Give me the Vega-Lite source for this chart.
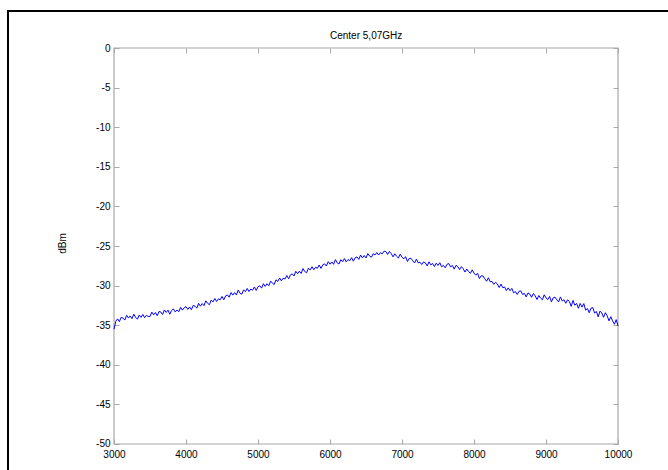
{
 "$schema": "https://vega.github.io/schema/vega-lite/v6.json",
 "width": 680,
 "height": 459,
 "autosize": {"type": "none"},
 "padding": {"left": 8, "top": 11, "right": -20, "bottom": 0},
 "background": "white",
 "config": {"view": {"stroke": "transparent", "strokeWidth": 0, "strokeOpacity": 0}, "font": "Liberation Sans"},
 "title": {"text": "Center 5,07GHz", "fontSize": 10, "fontWeight": "normal", "color": "black", "font": "Liberation Sans", "frame": "group", "anchor": "start", "offset": -31, "dx": 322},
 "datasets": {"spectrum": [
{"f":3000,"v":-35.5},{"f":3025,"v":-34.5},{"f":3050,"v":-34.2},{"f":3075,"v":-34.55},{"f":3100,"v":-34.0},{"f":3125,"v":-34.1},{"f":3150,"v":-34.35},{"f":3175,"v":-33.75},{"f":3200,"v":-34.1},{"f":3225,"v":-33.84},{"f":3250,"v":-34.17},{"f":3275,"v":-33.61},{"f":3300,"v":-34.0},{"f":3325,"v":-34.24},{"f":3350,"v":-33.72},{"f":3375,"v":-34.01},{"f":3400,"v":-33.65},{"f":3425,"v":-34.05},{"f":3450,"v":-33.75},{"f":3475,"v":-33.9},
{"f":3500,"v":-33.9},{"f":3525,"v":-33.35},{"f":3550,"v":-33.7},{"f":3575,"v":-33.4},{"f":3600,"v":-33.8},{"f":3625,"v":-33.27},{"f":3650,"v":-33.33},{"f":3675,"v":-33.65},{"f":3700,"v":-33.07},{"f":3725,"v":-33.38},{"f":3750,"v":-33.1},{"f":3775,"v":-33.62},{"f":3800,"v":-33.13},{"f":3825,"v":-32.95},{"f":3850,"v":-33.32},{"f":3875,"v":-33.08},{"f":3900,"v":-33.3},{"f":3925,"v":-32.75},{"f":3950,"v":-33.1},{"f":3975,"v":-32.8},
{"f":4000,"v":-32.65},{"f":4025,"v":-33.0},{"f":4050,"v":-32.7},{"f":4075,"v":-33.05},{"f":4100,"v":-32.5},{"f":4125,"v":-32.6},{"f":4150,"v":-32.85},{"f":4175,"v":-32.25},{"f":4200,"v":-32.6},{"f":4225,"v":-32.27},{"f":4250,"v":-32.54},{"f":4275,"v":-31.92},{"f":4300,"v":-32.24},{"f":4325,"v":-32.41},{"f":4350,"v":-31.83},{"f":4375,"v":-32.06},{"f":4400,"v":-31.63},{"f":4425,"v":-32.0},{"f":4450,"v":-31.67},{"f":4475,"v":-31.79},
{"f":4500,"v":-31.37},{"f":4525,"v":-31.79},{"f":4550,"v":-31.31},{"f":4575,"v":-31.18},{"f":4600,"v":-31.46},{"f":4625,"v":-30.88},{"f":4650,"v":-31.2},{"f":4675,"v":-30.89},{"f":4700,"v":-31.18},{"f":4725,"v":-30.57},{"f":4750,"v":-30.96},{"f":4775,"v":-31.09},{"f":4800,"v":-30.53},{"f":4825,"v":-30.77},{"f":4850,"v":-30.36},{"f":4875,"v":-30.75},{"f":4900,"v":-30.44},{"f":4925,"v":-30.58},{"f":4950,"v":-30.17},{"f":4975,"v":-30.61},
{"f":5000,"v":-30.14},{"f":5025,"v":-30.03},{"f":5050,"v":-30.32},{"f":5075,"v":-29.76},{"f":5100,"v":-30.1},{"f":5125,"v":-29.76},{"f":5150,"v":-30.02},{"f":5175,"v":-29.43},{"f":5200,"v":-29.69},{"f":5225,"v":-29.86},{"f":5250,"v":-29.27},{"f":5275,"v":-29.48},{"f":5300,"v":-29.04},{"f":5325,"v":-29.4},{"f":5350,"v":-29.06},{"f":5375,"v":-29.17},{"f":5400,"v":-28.73},{"f":5425,"v":-29.14},{"f":5450,"v":-28.66},{"f":5475,"v":-28.52},
{"f":5500,"v":-28.78},{"f":5525,"v":-28.19},{"f":5550,"v":-28.5},{"f":5575,"v":-28.18},{"f":5600,"v":-28.47},{"f":5625,"v":-27.85},{"f":5650,"v":-28.23},{"f":5675,"v":-28.37},{"f":5700,"v":-27.8},{"f":5725,"v":-28.03},{"f":5750,"v":-27.62},{"f":5775,"v":-28.0},{"f":5800,"v":-27.68},{"f":5825,"v":-27.82},{"f":5850,"v":-27.4},{"f":5875,"v":-27.83},{"f":5900,"v":-27.37},{"f":5925,"v":-27.25},{"f":5950,"v":-27.53},{"f":5975,"v":-26.97},
{"f":6000,"v":-27.3},{"f":6025,"v":-27.01},{"f":6050,"v":-27.31},{"f":6075,"v":-26.72},{"f":6100,"v":-27.12},{"f":6125,"v":-27.28},{"f":6150,"v":-26.73},{"f":6175,"v":-26.99},{"f":6200,"v":-26.59},{"f":6225,"v":-27.0},{"f":6250,"v":-26.71},{"f":6275,"v":-26.86},{"f":6300,"v":-26.47},{"f":6325,"v":-26.92},{"f":6350,"v":-26.48},{"f":6375,"v":-26.38},{"f":6400,"v":-26.69},{"f":6425,"v":-26.14},{"f":6450,"v":-26.5},{"f":6475,"v":-26.2},
{"f":6500,"v":-26.51},{"f":6525,"v":-25.96},{"f":6550,"v":-26.27},{"f":6575,"v":-26.42},{"f":6600,"v":-25.97},{"f":6625,"v":-26.13},{"f":6650,"v":-25.83},{"f":6675,"v":-26.13},{"f":6700,"v":-25.84},{"f":6725,"v":-25.99},{"f":6750,"v":-25.65},{"f":6775,"v":-25.7},{"f":6800,"v":-26.07},{"f":6825,"v":-25.68},{"f":6850,"v":-25.95},{"f":6875,"v":-26.37},{"f":6900,"v":-25.98},{"f":6925,"v":-26.3},{"f":6950,"v":-26.52},{"f":6975,"v":-26.03},
{"f":7000,"v":-26.4},{"f":7025,"v":-26.62},{"f":7050,"v":-26.34},{"f":7075,"v":-26.96},{"f":7100,"v":-26.58},{"f":7125,"v":-26.55},{"f":7150,"v":-26.87},{"f":7175,"v":-27.14},{"f":7200,"v":-26.66},{"f":7225,"v":-27.13},{"f":7250,"v":-27.05},{"f":7275,"v":-27.33},{"f":7300,"v":-27.01},{"f":7325,"v":-27.14},{"f":7350,"v":-27.52},{"f":7375,"v":-27.0},{"f":7400,"v":-27.38},{"f":7425,"v":-27.21},{"f":7450,"v":-27.59},{"f":7475,"v":-27.17},
{"f":7500,"v":-27.45},{"f":7525,"v":-27.11},{"f":7550,"v":-27.62},{"f":7575,"v":-27.44},{"f":7600,"v":-27.75},{"f":7625,"v":-27.31},{"f":7650,"v":-27.22},{"f":7675,"v":-27.64},{"f":7700,"v":-27.45},{"f":7725,"v":-27.92},{"f":7750,"v":-27.44},{"f":7775,"v":-27.61},{"f":7800,"v":-27.98},{"f":7825,"v":-27.6},{"f":7850,"v":-27.87},{"f":7875,"v":-28.29},{"f":7900,"v":-27.91},{"f":7925,"v":-28.23},{"f":7950,"v":-28.45},{"f":7975,"v":-28.01},
{"f":8000,"v":-28.42},{"f":8025,"v":-28.68},{"f":8050,"v":-28.44},{"f":8075,"v":-29.11},{"f":8100,"v":-28.77},{"f":8125,"v":-28.78},{"f":8150,"v":-29.14},{"f":8175,"v":-29.45},{"f":8200,"v":-29.01},{"f":8225,"v":-29.52},{"f":8250,"v":-29.47},{"f":8275,"v":-29.83},{"f":8300,"v":-29.59},{"f":8325,"v":-29.8},{"f":8350,"v":-30.25},{"f":8375,"v":-29.81},{"f":8400,"v":-30.27},{"f":8425,"v":-30.18},{"f":8450,"v":-30.63},{"f":8475,"v":-30.29},
{"f":8500,"v":-30.65},{"f":8525,"v":-30.35},{"f":8550,"v":-30.91},{"f":8575,"v":-30.76},{"f":8600,"v":-31.11},{"f":8625,"v":-30.72},{"f":8650,"v":-30.67},{"f":8675,"v":-31.12},{"f":8700,"v":-30.98},{"f":8725,"v":-31.43},{"f":8750,"v":-30.93},{"f":8775,"v":-31.07},{"f":8800,"v":-31.48},{"f":8825,"v":-30.99},{"f":8850,"v":-31.29},{"f":8875,"v":-31.76},{"f":8900,"v":-31.25},{"f":8925,"v":-31.58},{"f":8950,"v":-31.79},{"f":8975,"v":-31.16},
{"f":9000,"v":-31.55},{"f":9025,"v":-31.76},{"f":9050,"v":-31.37},{"f":9075,"v":-32.06},{"f":9100,"v":-31.55},{"f":9125,"v":-31.46},{"f":9150,"v":-31.79},{"f":9175,"v":-32.06},{"f":9200,"v":-31.43},{"f":9225,"v":-31.94},{"f":9250,"v":-31.79},{"f":9275,"v":-32.23},{"f":9300,"v":-31.79},{"f":9325,"v":-32.01},{"f":9350,"v":-32.62},{"f":9375,"v":-31.87},{"f":9400,"v":-32.48},{"f":9425,"v":-32.25},{"f":9450,"v":-32.86},{"f":9475,"v":-32.26},
{"f":9500,"v":-32.72},{"f":9525,"v":-32.27},{"f":9550,"v":-33.1},{"f":9575,"v":-32.89},{"f":9600,"v":-33.43},{"f":9625,"v":-32.85},{"f":9650,"v":-32.78},{"f":9675,"v":-33.47},{"f":9700,"v":-33.26},{"f":9725,"v":-33.95},{"f":9750,"v":-33.22},{"f":9775,"v":-33.46},{"f":9800,"v":-34.0},{"f":9825,"v":-33.42},{"f":9850,"v":-33.82},{"f":9875,"v":-34.45},{"f":9900,"v":-33.93},{"f":9925,"v":-34.45},{"f":9950,"v":-34.88},{"f":9975,"v":-34.3},
{"f":10000,"v":-35.1}
 ], "box": [{"part": "axes box"}]},
 "layer": [
  {
   "data": {"name": "box"},
   "mark": {"type": "rect", "fill": null, "fillOpacity": 0, "stroke": "black", "strokeWidth": 2},
   "encoding": {
    "x": {"datum": 1527.78, "type": "quantitative",
     "scale": {"domain": [1527.78, 10972.22], "nice": false, "zero": false}, "axis": null},
    "x2": {"datum": 12500},
    "y": {"datum": 4.672, "type": "quantitative",
     "scale": {"domain": [-53.283, 4.672], "nice": false, "zero": false}, "axis": null},
    "y2": {"datum": -62}
   }
  },
  {
   "data": {"name": "box"},
   "mark": {"type": "rect", "fill": null, "fillOpacity": 0, "stroke": "#a8a8a8", "strokeWidth": 1.2},
   "encoding": {
    "x": {"datum": 3000, "type": "quantitative",
     "scale": {"domain": [1527.78, 10972.22], "nice": false, "zero": false},
     "axis": {"orient": "top", "offset": -37, "values": [3000,4000,5000,6000,7000,8000,9000,10000], "labels": false, "grid": false, "domain": false, "tickSize": -5, "tickColor": "#a8a8a8", "title": null}},
    "x2": {"datum": 10000},
    "y": {"datum": 0, "type": "quantitative",
     "scale": {"domain": [-53.283, 4.672], "nice": false, "zero": false},
     "axis": {"orient": "right", "offset": -70, "values": [0,-5,-10,-15,-20,-25,-30,-35,-40,-45,-50], "labels": false, "grid": false, "domain": false, "tickSize": -5, "tickColor": "#a8a8a8", "title": null}},
    "y2": {"datum": -50}
   }
  },
  {
   "data": {"name": "spectrum"},
   "mark": {"type": "line", "color": "#0000ff", "strokeWidth": 1},
   "encoding": {
    "x": {"field": "f", "type": "quantitative",
     "scale": {"domain": [1527.78, 10972.22], "nice": false, "zero": false},
     "axis": {"orient": "bottom", "offset": -26, "values": [3000,4000,5000,6000,7000,8000,9000,10000], "labelExpr": "datum.value + ''", "grid": false, "domain": false, "tickSize": -5, "tickColor": "#a8a8a8", "labelPadding": 10, "labelFontSize": 10, "labelColor": "black", "labelFont": "Liberation Sans", "title": null, "labelFlush": false, "labelOverlap": false}},
    "y": {"field": "v", "type": "quantitative",
     "scale": {"domain": [-53.283, 4.672], "nice": false, "zero": false},
     "axis": {"orient": "left", "offset": -106, "values": [0,-5,-10,-15,-20,-25,-30,-35,-40,-45,-50], "labelExpr": "datum.value + ''", "grid": false, "domain": false, "tickSize": -5, "tickColor": "#a8a8a8", "labelPadding": 9, "labelFontSize": 10, "labelColor": "black", "labelFont": "Liberation Sans", "labelOverlap": false, "labelFlush": false, "title": "dBm", "titleFontWeight": "normal", "titleFontSize": 10, "titleColor": "black", "titleFont": "Liberation Sans", "titleX": -47, "titleY": 232, "titleAngle": -90}}
   }
  }
 ],
 "resolve": {"axis": {"x": "independent", "y": "independent"}}
}
